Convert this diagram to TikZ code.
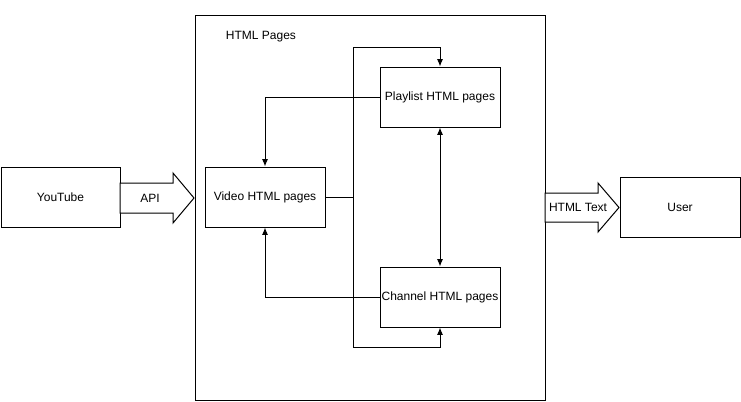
\documentclass[tikz,border=0pt]{standalone}
\usepackage{fontspec}
\setmainfont{Liberation Sans}
\usetikzlibrary{arrows.meta}
\tikzset{
  pagebox/.style={draw, line width=0.75pt, minimum width=90pt, minimum height=45pt, inner sep=0pt},
  link/.style={line width=0.75pt, -{Latex[length=5.5pt,width=4.5pt]}},
  fatarrow/.style={draw, fill=white, line width=0.75pt, line join=miter},
}
\begin{document}
\begin{tikzpicture}[x=0.75pt,y=-0.75pt,font=\fontsize{9}{11}\selectfont]
    \useasboundingbox (0,0) rectangle (741,401);
    % outer frame
    \draw[line width=0.75pt] (195,15) rectangle (545,400);
    \node (title) at (261,37) {HTML Pages};
    % boxes
    \node[pagebox, minimum width=89.25pt] (youtube) at (60.5,197) {YouTube};
    \node[pagebox] (video) at (265,197) {Video HTML pages};
    \node[pagebox] (playlist) at (440,97) {Playlist HTML pages};
    \node[pagebox] (channel) at (440,297) {Channel HTML pages};
    \node[pagebox] (user) at (680,207) {User};
    % block arrows
    \draw[fatarrow] (120,183) -- (173,183) -- (173,173) -- (194,198) -- (173,223) -- (173,213) -- (120,213) -- cycle;
    \node (api) at (150,198) {API};
    \draw[fatarrow] (545,193) -- (598,193) -- (598,183) -- (619,207.5) -- (598,232) -- (598,222) -- (545,222) -- cycle;
    \node (htmltext) at (578,207.5) {HTML Text};
    % links
    \coordinate (split) at (353,197);
    \coordinate (splittop) at (353,47);
    \coordinate (splitbot) at (353,347);
    \draw[line width=0.75pt] (video.east) -- (split);
    \draw[link] (split) -- (splittop) -| (playlist.north);
    \draw[link] (split) -- (splitbot) -| (channel.south);
    \draw[link] (playlist.west) -| (video.north);
    \draw[link] (channel.west) -| (video.south);
    \draw[link, {Latex[length=5.5pt,width=4.5pt]}-{Latex[length=5.5pt,width=4.5pt]}] (playlist.south) -- (channel.north);
  \end{tikzpicture}
\end{document}
